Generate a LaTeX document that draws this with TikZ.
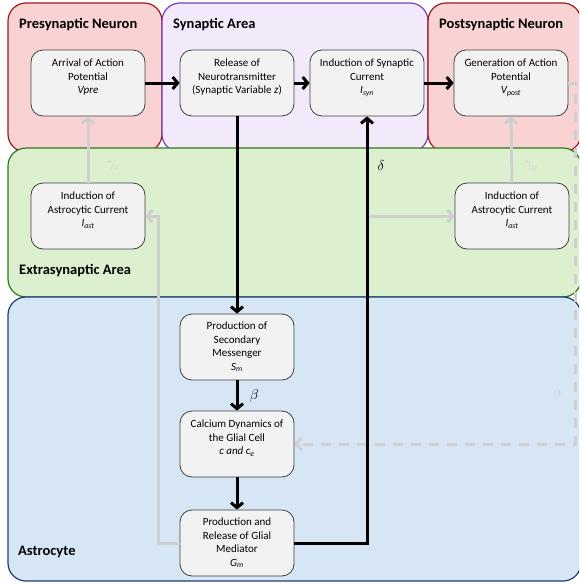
\documentclass[tikz,border=0pt]{standalone}
\usepackage{fontspec}
\setmainfont{Carlito}
\usepackage{tikz}
\usetikzlibrary{positioning, arrows.meta, calc}

\definecolor{preFill}{HTML}{F9D3D3}
\definecolor{preLine}{HTML}{A01818}
\definecolor{synFill}{HTML}{F2E9FB}
\definecolor{synLine}{HTML}{7B3FB8}
\definecolor{extFill}{HTML}{DCEFCF}
\definecolor{extLine}{HTML}{2E7A1C}
\definecolor{astFill}{HTML}{D6E6F5}
\definecolor{astLine}{HTML}{1F3C74}
\definecolor{boxFill}{HTML}{F2F2F2}
\definecolor{boxLine}{HTML}{404040}
\definecolor{sideGray}{HTML}{CFCFCF}

\begin{document}
\begin{tikzpicture}[x=1pt, y=-1pt,
                region/.style={rounded corners=18pt, line width=1.2pt},
                regtitle/.style={anchor=west, inner sep=0pt, font=\fontsize{14.5}{16}\selectfont\bfseries},
                process/.style={draw=boxLine, fill=boxFill, line width=0.8pt, rounded corners=12pt, minimum width=114pt, minimum height=66pt, inner sep=2pt, align=center, font=\fontsize{11}{13.5}\selectfont},
                flow/.style={line width=3pt, -{Straight Barb[length=5pt,width=12pt]}},
                feedback/.style={line width=3pt, draw=sideGray, -{Straight Barb[length=5pt,width=12pt]}},
                varlabel/.style={font=\fontsize{14}{16}\selectfont},
                greylabel/.style={font=\fontsize{14}{16}\selectfont, text=sideGray}
            ]

            \useasboundingbox (0,0) rectangle (579,584);
            \clip (0,0) rectangle (579,584);

            % Bereiche
            \draw[region, draw=preLine, fill=preFill] (8,3) rectangle (162,152);
            \draw[region, draw=synLine, fill=synFill] (162,3) rectangle (428,152);
            \draw[region, draw=preLine, fill=preFill] (428,3) rectangle (581,152);
            \draw[region, draw=extLine, fill=extFill] (8,148) rectangle (581,297);
            \draw[region, draw=astLine, fill=astFill] (8,297) rectangle (581,581);

            \node[regtitle] (tpre) at (19,25) {Presynaptic Neuron};
            \node[regtitle] (tsyn) at (173,25) {Synaptic Area};
            \node[regtitle] (tpost) at (439,25) {Postsynaptic Neuron};
            \node[regtitle] (text) at (19,271) {Extrasynaptic Area};
            \node[regtitle] (tast) at (18,552) {Astrocyte};

            % Knoten
            \node[process] (vpre) at (88,83) {Arrival of Action\\Potential\\\textit{Vpre}\\~};
            \node[process] (rel) at (237,83) {Release of\\Neurotransmitter\\(Synaptic Variable \textit{z})\\~};
            \node[process] (isyn) at (367,83) {Induction of Synaptic\\Current\\\textit{I\textsubscript{syn}}\\~};
            \node[process] (vpost) at (511,83) {Generation of Action\\Potential\\\textit{V\textsubscript{post}}\\~};
            \node[process] (iastL) at (88,216) {Induction of\\Astrocytic Current\\\textit{I\textsubscript{ast}}\\~};
            \node[process] (iastR) at (512,216) {Induction of\\Astrocytic Current\\\textit{I\textsubscript{ast}}\\~};
            \node[process] (sm) at (237,347) {Production of\\Secondary\\Messenger\\\textit{S\textsubscript{m}}};
            \node[process] (calc) at (237,444) {Calcium Dynamics of\\the Glial Cell\\\textit{c and c\textsubscript{e}}\\~};
            \node[process] (gm) at (237,543) {Production and\\Release of Glial\\Mediator\\\textit{G\textsubscript{m}}};

            % graue Rueckkopplungen
            \draw[feedback] (iastL.north) -- (vpre.south) node[pos=0.25, right=14pt, greylabel] {$\gamma_x$};
            \draw[feedback] (iastR.north) -- (vpost.south) node[pos=0.25, right=8pt, greylabel] {$\gamma_y$};
            \draw[feedback] (gm.west) -- ++(-21,0) |- (iastL.east);
            \draw[feedback] (isyn.south |- iastR.west) -- (iastR.west);
            \draw[feedback, dashed, dash pattern=on 10pt off 8pt] (vpost.east) -- (575,83) |- (calc.east);
            \node[greylabel] (alpha) at (558,393) {$\alpha$};

            % Kanten zwischen Knoten
            \draw[flow] (vpre.east) -- (rel.west);
            \draw[flow] (rel.east) -- (isyn.west);
            \draw[flow] (isyn.east) -- (vpost.west);
            \draw[flow] (rel.south) -- (sm.north);
            \draw[flow] (sm.south) -- (calc.north) node[midway, right=8pt, varlabel] {$\beta$};
            \draw[flow] (calc.south) -- (gm.north);
            \draw[flow] (gm.east) -| (isyn.south);
            \node[varlabel] (delta) at ($(isyn.south)+(14,49)$) {$\delta$};

        \end{tikzpicture}
\end{document}
